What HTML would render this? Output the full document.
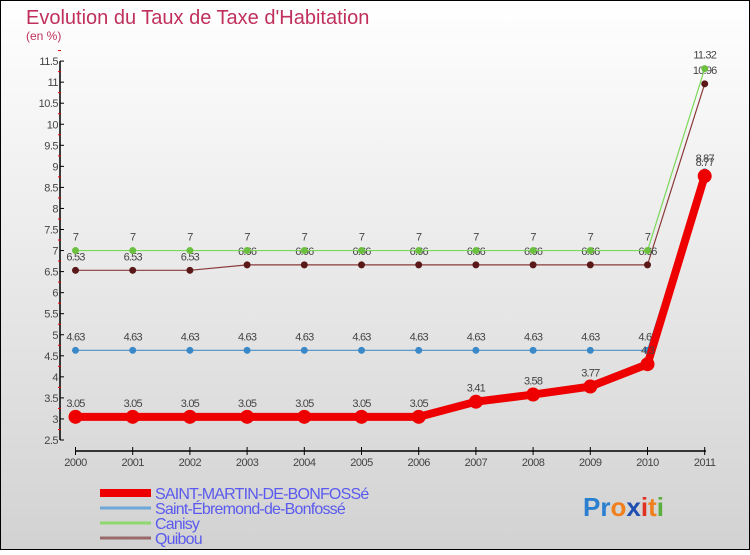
<!DOCTYPE html>
<html><head><meta charset="utf-8"><style>
body{margin:0;}
svg text{font-family:"Liberation Sans",sans-serif;}
</style></head><body>
<svg width="750" height="550" xmlns="http://www.w3.org/2000/svg">
<defs><linearGradient id="bg" x1="0" y1="0" x2="0" y2="1"><stop offset="0" stop-color="#ffffff"/><stop offset="1" stop-color="#d2d2d2"/></linearGradient></defs>
<rect x="0.5" y="0.5" width="749" height="549" fill="url(#bg)" stroke="#000"/>
<text x="26" y="24" font-size="20" fill="#c0305c">Evolution du Taux de Taxe d'Habitation</text>
<text x="26" y="40" font-size="12" fill="#c0305c">(en %)</text>
<g id="axes"></g><g id="series"></g><g id="legend"></g>
<g font-size="26" font-weight="bold">
<text x="583" y="516"><tspan fill="#2a7fd0">P</tspan><tspan fill="#2a7fd0">r</tspan><tspan fill="#f07f1e">o</tspan><tspan fill="#1f4fb0">x</tspan><tspan fill="#e03020">i</tspan><tspan fill="#f07f1e">t</tspan><tspan fill="#5aae3c">i</tspan></text>
</g>
</svg>
<script>
const years=[2000,2001,2002,2003,2004,2005,2006,2007,2008,2009,2010,2011];
const yTicks=[2.5,3,3.5,4,4.5,5,5.5,6,6.5,7,7.5,8,8.5,9,9.5,10,10.5,11,11.5];
const seriesNames=["SAINT-MARTIN-DE-BONFOSSé","Saint-Ébremond-de-Bonfossé","Canisy","Quibou"];
const smbValues=[3.05,3.05,3.05,3.05,3.05,3.05,3.05,3.41,3.58,3.77,4.3,8.77];
const sebValues=[4.63,4.63,4.63,4.63,4.63,4.63,4.63,4.63,4.63,4.63,4.63,8.87];
const canisyValues=[7,7,7,7,7,7,7,7,7,7,7,11.32];
const quibouValues=[6.53,6.53,6.53,6.66,6.66,6.66,6.66,6.66,6.66,6.66,6.66,10.96];
const NS="http://www.w3.org/2000/svg";
const xs=i=>75.5+i*57.2;
const ys=v=>440-(v-2.5)*42.1;
function mk(tag,attrs,parent){const e=document.createElementNS(NS,tag);for(const k in attrs)e.setAttribute(k,attrs[k]);parent.appendChild(e);return e;}
const axes=document.getElementById('axes');
const yl=mk('line',{x1:60,y1:ys(11.5),x2:60,y2:ys(2.5),stroke:'#000','stroke-width':1.5},axes);


yTicks.forEach(t=>{
 const l=mk('line',{x1:60,y1:ys(t),x2:64,y2:ys(t),stroke:'#000'},axes);
 
 
 const m=mk('line',{x1:58,y1:ys(t+0.25),x2:61,y2:ys(t+0.25),stroke:'#e00'},axes);
 
 
 const tx=mk('text',{x:58,y:ys(t)+4,'font-size':11,'text-anchor':'end',fill:'#444','letter-spacing':'-0.5'},axes);
 tx.textContent=String(t);
 
 
});
const xl=mk('line',{x1:75,y1:451,x2:706,y2:451,stroke:'#000','stroke-width':1.5},axes);


years.forEach((y,i)=>{
 const l=mk('line',{x1:xs(i),y1:447,x2:xs(i),y2:455,stroke:'#000'},axes);
 
 
 const tx=mk('text',{x:xs(i),y:466,'font-size':11,'text-anchor':'middle',fill:'#444','letter-spacing':'-0.5'},axes);
 tx.textContent=String(y);
 
 
});
const sg=document.getElementById('series');
function draw(vals,color,lw,r,dot,name,labels){
 const g=mk('g',{},sg);
 
 
 const p=mk('polyline',{points:vals.map((v,i)=>xs(i)+','+ys(v)).join(' '),fill:'none',stroke:color,'stroke-width':lw,'stroke-linejoin':'round'},g);
 
 
 vals.forEach((v,i)=>{
  const c=mk('circle',{cx:xs(i),cy:ys(v),r:r,fill:dot},g);
  
  
  if(labels){
   const t=mk('text',{x:xs(i),y:ys(v)-10,'font-size':11,'text-anchor':'middle',fill:'#444','letter-spacing':'-0.8'},g);
   t.textContent=String(v).replace(/^(\d)\.(\d\d)$/,'$1.$2');
   
   
  }
 });
}
draw(quibouValues,'#8b3a3a',1.2,3.5,'#5a1818','quibou',true);
draw(canisyValues,'#7dd85a',1.2,3.5,'#6cc040','canisy',true);
draw(sebValues,'#4a90c8',1.2,3.5,'#3a88c8','saint-ebremond',true);
draw(smbValues,'#ee0000',8,7,'#ee0000','saint-martin',true);
const lg=document.getElementById('legend');
const lcol=['#ee0000','#6fa8d8','#8fd870','#9a6a6a'],lw=[8,3,3,3],ly=[493,508,523,538];
seriesNames.forEach((n,i)=>{
 const g=mk('g',{},lg);
 
 
 mk('line',{x1:100,y1:ly[i],x2:151,y2:ly[i],stroke:lcol[i],'stroke-width':lw[i]},g);
 const t=mk('text',{x:155,y:ly[i]+6,'font-size':16,fill:'#5a5aee','letter-spacing':'-0.8'},g);
 t.textContent=n;
});
</script>
</body></html>
